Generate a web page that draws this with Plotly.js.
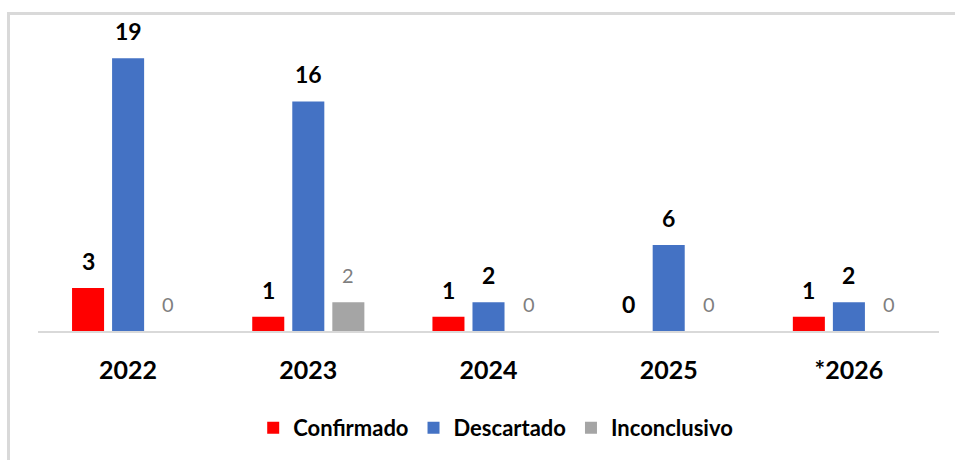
<!DOCTYPE html>
<html>
<head>
<meta charset="utf-8">
<script src="https://cdn.plot.ly/plotly-3.0.1.min.js"></script>
<style>
  html, body { margin: 0; padding: 0; background: #fff; }
  #wrap { position: relative; width: 955px; height: 460px; }
  #chart { position: absolute; left: 0; top: 0; width: 955px; height: 460px; }
  #frame { position: absolute; left: 7px; top: 12px; width: 950px; height: 460px;
           border-top: 3px solid #D9D9D9; border-left: 3px solid #D9D9D9; pointer-events: none; }
</style>
</head>
<body>
<div id="wrap">
  <div id="chart"></div>
  <div id="frame"></div>
</div>
<script>
const years = ["2022", "2023", "2024", "2025", "*2026"];
const confirmado = [3, 1, 1, 0, 1];
const descartado = [19, 16, 2, 6, 2];
const inconclusivo = [0, 2, 0, 0, 0];

const seriesNames = ["Confirmado", "Descartado", "Inconclusivo"];
const seriesValues = [confirmado, descartado, inconclusivo];
const seriesColors = ["#FF0000", "#4472C4", "#A5A5A5"];
const labelFonts = [
  {family: "Lato", size: 23, color: "#000000", weight: 700},
  {family: "Lato", size: 23, color: "#000000", weight: 700},
  {family: "Lato", size: 20, color: "#7F7F7F", weight: 400}
];
const slot = 40;

const traces = seriesNames.map((n, i) => ({
  type: "bar",
  name: n,
  x: years,
  y: seriesValues[i],
  marker: {color: seriesColors[i]},
  hoverinfo: "skip"
}));

const annotations = [];
seriesValues.forEach((vals, i) => {
  vals.forEach((v, j) => {
    annotations.push({
      xref: "x", yref: "y",
      x: j, y: v,
      text: String(v),
      showarrow: false,
      xshift: (i - 1) * slot,
      yshift: 27,
      yanchor: "middle",
      font: labelFonts[i]
    });
  });
});

const layout = {
  width: 955, height: 460,
  margin: {l: 38, r: 16, t: 44, b: 128},
  paper_bgcolor: "#ffffff",
  plot_bgcolor: "#ffffff",
  barmode: "group",
  bargap: 1/3,
  bargroupgap: 0.2,
  showlegend: true,
  legend: {
    orientation: "h",
    x: 0.508, xanchor: "center",
    y: -0.333, yanchor: "middle",
    font: {family: "Lato", size: 22, color: "#000000", weight: 700},
    itemclick: false
  },
  xaxis: {
    type: "category",
    categoryorder: "array",
    categoryarray: years,
    range: [-0.5, years.length - 0.5],
    showline: true, linecolor: "#D9D9D9", linewidth: 2,
    showgrid: false, zeroline: false,
    ticks: "",
    ticklabelstandoff: 16,
    tickfont: {family: "Lato", size: 25, color: "#000000", weight: 700}
  },
  yaxis: {
    range: [0, 20],
    visible: false,
    showgrid: false, zeroline: false
  },
  annotations: annotations
};

Plotly.newPlot("chart", traces, layout, {displayModeBar: false, staticPlot: true});
</script>
</body>
</html>
